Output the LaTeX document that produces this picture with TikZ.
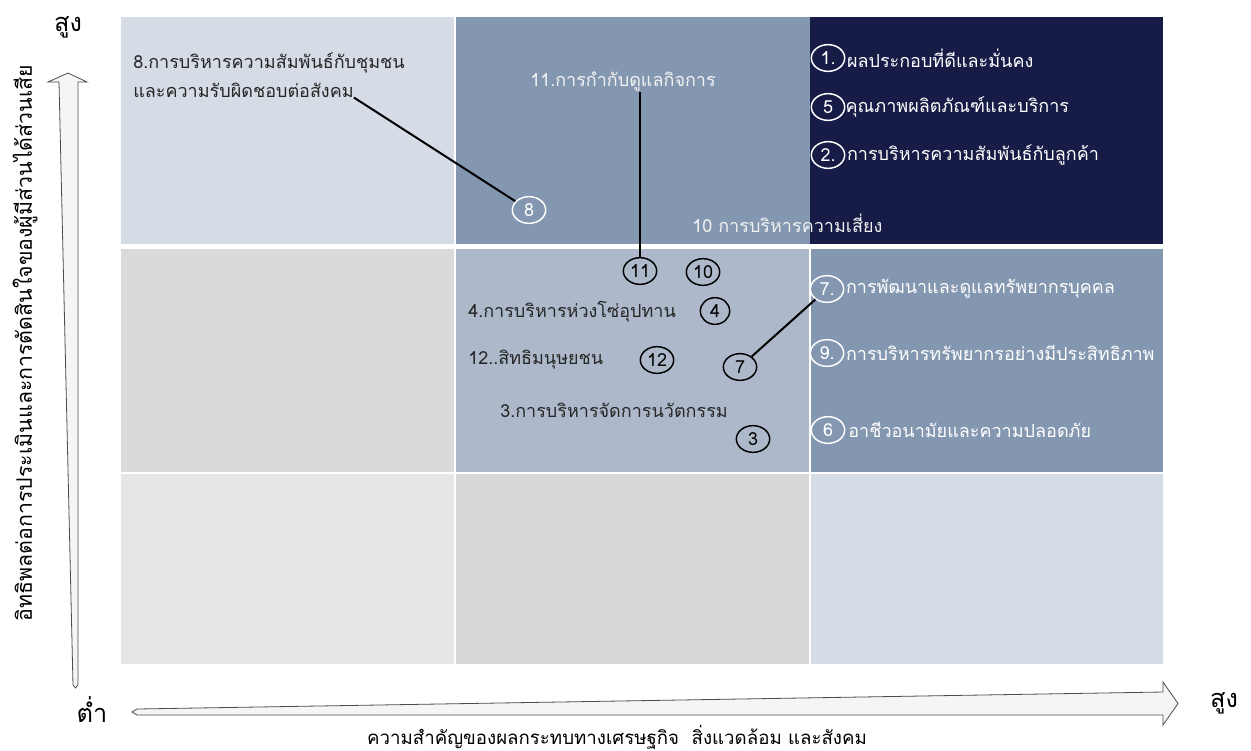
\documentclass[tikz,border=0pt]{standalone}
\usepackage{fontspec}
\newfontfamily\thai[Script=Thai]{Loma}
\usetikzlibrary{shapes.geometric,positioning}

\definecolor{cellTL}{HTML}{D6DCE5}
\definecolor{cellTM}{HTML}{8497B0}
\definecolor{cellTR}{HTML}{171C46}
\definecolor{cellML}{HTML}{DADADA}
\definecolor{cellMM}{HTML}{ADB9CA}
\definecolor{cellMR}{HTML}{8497B0}
\definecolor{cellBL}{HTML}{E6E6E6}
\definecolor{cellBM}{HTML}{D9D7D6}
\definecolor{cellBR}{HTML}{D6DCE5}
\definecolor{txtdark}{HTML}{262626}

\newcommand{\cellfont}{\thai\fontsize{13.5pt}{15pt}\selectfont}
\newcommand{\axisfont}{\thai\fontsize{14pt}{16pt}\selectfont}
\newcommand{\tipfont}{\thai\fontsize{19pt}{21pt}\selectfont}

\begin{document}
\begin{tikzpicture}[x=0.75pt, y=-0.75pt,
  lbl/.style={font=\cellfont, anchor=west, inner sep=0pt},
  numc/.style={ellipse, draw, line width=1.1pt, minimum width=25pt,
    minimum height=20pt, inner sep=0pt, font=\cellfont},
  link/.style={line width=1.5pt, black},
  blockarrow/.style={fill=gray!8, draw=black!70, line width=0.6pt}]
  \useasboundingbox (0,0) rectangle (1251,750);

  % Grid of nine cells
  \fill[cellTL] (121,17) rectangle (455,246);
  \fill[cellTM] (455,17) rectangle (810,246);
  \fill[cellTR] (810,17) rectangle (1163,246);
  \fill[cellML] (121,246) rectangle (455,473);
  \fill[cellMM] (455,246) rectangle (810,473);
  \fill[cellMR] (810,246) rectangle (1163,473);
  \fill[cellBL] (121,473) rectangle (455,664);
  \fill[cellBM] (455,473) rectangle (810,664);
  \fill[cellBR] (810,473) rectangle (1163,664);

  % White gaps between cells
  \draw[white, line width=3.75pt] (121,246) -- (1163,246);
  \draw[white, line width=1.2pt] (121,473) -- (1163,473);
  \draw[white, line width=1pt] (455,17) -- (455,664);
  \draw[white, line width=0.8pt] (810,246) -- (810,664);

  % Axes as block arrows
  \draw[blockarrow] (68,73) -- (87,82) -- (78,82) -- (78,685)
    -- (75.5,688) -- (73,685) -- (59,82) -- (48,82) -- cycle;
  \draw[blockarrow] (132,712) -- (137,709) -- (1163,692) -- (1163,682)
    -- (1178,703.5) -- (1163,725) -- (1163,715) -- (137,715) -- cycle;

  % Axis labels
  \node[font=\thai\fontsize{16pt}{18pt}\selectfont, rotate=90] (ylab) at (25,343)
    {อิทธิพลต่อการประเมินและการตัดสินใจของผู้มีส่วนได้ส่วนเสีย};
  \node[font=\axisfont] (xlab) at (617,737)
    {ความสำคัญของผลกระทบทางเศรษฐกิจ\ \ สิ่งแวดล้อม และสังคม};
  \node[font=\tipfont] (yhigh) at (68,27) {สูง};
  \node[font=\tipfont] (xlow) at (92,709) {ต่ำ};
  \node[font=\tipfont] (xhigh) at (1224,703) {สูง};

  % Top row
  \node[lbl, text=txtdark] (t8a) at (133,63) {8.การบริหารความสัมพันธ์กับชุมชน};
  \node[lbl, text=txtdark] (t8b) at (133,90) {และความรับผิดชอบต่อสังคม};
  \node[numc, draw=white, text=white] (c8) at (529,210) {8};
  \draw[link] (t8b.south east) -- (c8);

  \node[lbl, text=white!95!black] (t11) at (530,82) {11.การกำกับดูแลกิจการ};
  \node[lbl, text=white!94!black] (t10) at (692,223) {10 การบริหารความเสี่ยง};

  \node[numc, draw=white, text=white] (c1) at (828,58) {1.};
  \node[lbl, text=white, right=1pt of c1] (t1) {ผลประกอบที่ดีและมั่นคง};
  \node[numc, draw=white, text=white] (c5) at (828,107) {5};
  \node[lbl, text=white, right=0pt of c5] (t5) {คุณภาพผลิตภัณฑ์และบริการ};
  \node[numc, draw=white, text=white] (c2) at (828,155) {2.};
  \node[lbl, text=white, right=1pt of c2] (t2) {การบริหารความสัมพันธ์กับลูกค้า};

  % Middle row
  \node[numc] (c11) at (640,271) {11};
  \node[numc] (c10) at (703,272) {10};
  \draw[link] (t11.south -| c11) -- (c11);

  \node[lbl, text=txtdark] (t4) at (468,312) {4.การบริหารห่วงโซ่อุปทาน};
  \node[numc, minimum width=22pt] (c4) at (715,311) {4};
  \node[lbl, text=txtdark] (t12) at (468,360) {12..สิทธิมนุษยชน};
  \node[numc] (c12) at (657,360) {12};
  \node[numc] (c7) at (740,367) {7};
  \node[lbl, text=txtdark] (t3) at (500,410) {3.การบริหารจัดการนวัตกรรม};
  \node[numc] (c3) at (753,439) {3};

  \node[numc, draw=white, text=white] (c7r) at (827,289) {7.};
  \node[lbl, text=white, right=1pt of c7r] (t7) {การพัฒนาและดูแลทรัพยากรบุคคล};
  \draw[link] (c7) -- (c7r);
  \node[numc, draw=white, text=white] (c9) at (827,353) {9.};
  \node[lbl, text=white, right=1pt of c9] (t9) {การบริหารทรัพยากรอย่างมีประสิทธิภาพ};
  \node[numc, draw=white, text=white] (c6) at (828,430) {6};
  \node[lbl, text=white, right=2pt of c6] (t6) {อาชีวอนามัยและความปลอดภัย};
\end{tikzpicture}
\end{document}
